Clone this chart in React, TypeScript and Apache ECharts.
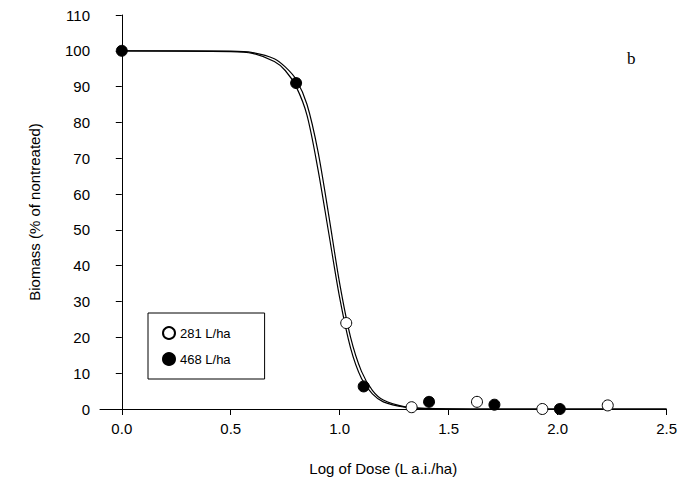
import { useEffect, useRef } from "react";
import * as echarts from "echarts";

// observed points
const open281: [number, number][] = [
  [1.03, 24], [1.33, 0.5], [1.63, 2], [1.93, 0], [2.23, 1],
];
const filled468: [number, number][] = [
  [0, 100], [0.8, 91], [1.11, 6.3], [1.41, 2], [1.71, 1.2], [2.01, 0],
];

// fitted curves
const curveA: [number, number][] = [
  [0, 100], [0.5, 99.8], [0.6, 99.3], [0.7, 97], [0.75, 94.5], [0.8, 90], [0.85, 82],
  [0.9, 67], [0.95, 49], [1.0, 31], [1.05, 17], [1.1, 8.5], [1.15, 4.2],
  [1.2, 2], [1.3, 0.5], [1.4, 0.1], [1.6, 0], [2.5, 0],
];
const curveB: [number, number][] = [
  [0, 100], [0.5, 99.9], [0.6, 99.5], [0.7, 97.8], [0.75, 95.5], [0.8, 92], [0.85, 85],
  [0.9, 72], [0.95, 54], [1.0, 35], [1.05, 20], [1.1, 10.5], [1.15, 5.2],
  [1.2, 2.5], [1.3, 0.6], [1.4, 0.15], [1.6, 0], [2.5, 0],
];

const font = "Liberation Sans, Arial, sans-serif";

export default function App() {
  const ref = useRef<HTMLDivElement>(null);

  useEffect(() => {
    if (!ref.current) return;
    const chart = echarts.init(ref.current, null, { renderer: "svg" });
    const lineSeries = (data: [number, number][]) => ({
      type: "line" as const,
      data,
      smooth: 0.3,
      showSymbol: false,
      symbol: "none",
      lineStyle: { color: "#000", width: 1.2 },
      silent: true,
    });
    chart.setOption({
      animation: false,
      textStyle: { fontFamily: font },
      grid: { left: 100, right: 12, top: 15, bottom: 76 },
      legend: {
        orient: "vertical",
        left: 148,
        top: 313,
        width: 112,
        padding: [13, 34, 13, 14],
        itemGap: 12,
        borderColor: "#000",
        borderWidth: 1,
        borderRadius: 0,
        itemWidth: 12,
        itemHeight: 12,
        textStyle: { fontFamily: font, fontSize: 13, color: "#000" },
        data: ["281 L/ha", "468 L/ha"],
      },
      graphic: [
        { type: "text", left: 627, top: 50, style: { text: "b", font: "17px 'Liberation Serif', serif", fill: "#000" } },
      ],
      xAxis: {
        type: "value",
        min: -0.1,
        max: 2.5,
        interval: 0.5,
        name: "Log of Dose (L a.i./ha)",
        nameLocation: "middle",
        nameGap: 52,
        nameTextStyle: { fontSize: 15, color: "#000" },
        axisLine: { lineStyle: { color: "#000" } },
        axisTick: { lineStyle: { color: "#000" }, length: 6, customValues: [0, 0.5, 1, 1.5, 2, 2.5] },
        axisLabel: {
          fontSize: 15, color: "#000", margin: 12,
          customValues: [0, 0.5, 1, 1.5, 2, 2.5],
          formatter: (v: number) => v.toFixed(1),
        },
        splitLine: { show: false },
      },
      yAxis: {
        type: "value",
        min: 0,
        max: 110,
        interval: 10,
        name: "Biomass (% of nontreated)",
        nameLocation: "middle",
        nameGap: 58,
        nameTextStyle: { fontSize: 15, color: "#000" },
        axisLine: { show: true, lineStyle: { color: "#000" } },
        axisTick: { show: true, lineStyle: { color: "#000" }, length: 6 },
        axisLabel: { fontSize: 15, color: "#000", margin: 10 },
        splitLine: { show: false },
      },
      series: [
        lineSeries(curveA),
        lineSeries(curveB),
        {
          name: "281 L/ha",
          type: "scatter",
          data: open281,
          symbol: "circle",
          symbolSize: 11,
          itemStyle: { color: "#fff", borderColor: "#000", borderWidth: 1, opacity: 1 },
          clip: false,
          z: 5,
        },
        {
          name: "468 L/ha",
          type: "scatter",
          data: filled468,
          symbol: "circle",
          symbolSize: 11,
          itemStyle: { color: "#000", borderColor: "#000", borderWidth: 1, opacity: 1 },
          clip: false,
          z: 6,
        },
      ],
    });
    return () => chart.dispose();
  }, []);

  return (
    <div
      ref={ref}
      style={{ position: "absolute", left: 0, top: 0, width: 680, height: 485, background: "#fff" }}
    />
  );
}
